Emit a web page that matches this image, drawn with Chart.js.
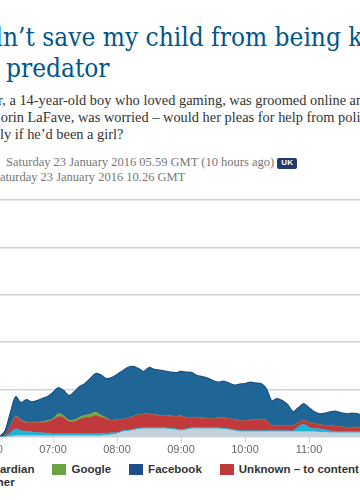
<!DOCTYPE html>
<html>
<head>
<meta charset="utf-8">
<script src="https://cdn.jsdelivr.net/npm/chart.js@4.4.1/dist/chart.umd.min.js"></script>
<style>
  html, body { margin: 0; padding: 0; background: #fff; }
  body { width: 360px; height: 500px; overflow: hidden; position: relative; }
  .line { position: absolute; white-space: nowrap; }
  .cut { position: absolute; right: 100%; white-space: pre; }
  .hl { font-family: "DejaVu Serif", serif; font-stretch: condensed; font-size: 26px; line-height: 31px; color: #005689; }
  .sf { font-family: "Liberation Serif", serif; font-size: 14.4px; line-height: 17px; color: #333; }
  .dt { font-family: "Liberation Serif", serif; font-size: 12.5px; line-height: 15px; color: #767676; }
  .badge { display: inline-block; width: 20px; height: 11px; line-height: 11px; margin-left: 3px; text-align: center;
           background: #21396b; color: #fff; border-radius: 2px; font: bold 8px "Liberation Sans", Arial, sans-serif; vertical-align: 1px; }
  #chartWrap { position: absolute; left: -40px; top: 196px; width: 440px; height: 262px; }
  #legend { position: absolute; left: -35px; top: 463px; width: 400px; display: flex; flex-wrap: wrap; column-gap: 18px;
            font: bold 11.5px "Liberation Sans", Arial, sans-serif; line-height: 13px; color: #333; }
  #legend .item { display: flex; align-items: center; white-space: nowrap; }
  #legend .sw { width: 14px; height: 11px; margin-right: 5px; }
</style>
</head>
<body>

<div class="line hl" style="left:-12px; top:22px"><span class="cut">‘I coul</span>dn’t save my child from being killed by an</div>
<div class="line hl" style="left:6px; top:53px"><span class="cut">by an online&nbsp;</span>predator</div>

<div class="line sf" style="left:-2px; top:92px"><span class="cut">Breck Bedna</span>r, a 14-year-old boy who loved gaming, was groomed online and murdered. His</div>
<div class="line sf" style="left:-8px; top:109px"><span class="cut">mother,&nbsp;</span>Lorin LaFave, was worried – would her pleas for help from police have been</div>
<div class="line sf" style="left:0px; top:126px"><span class="cut">taken more serious</span>ly if he’d been a girl?</div>

<div class="line dt" style="left:6px; top:155px"><span class="cut" style="padding-right:8px">First published on</span>Saturday 23 January 2016 05.59 GMT (10 hours ago)<span class="badge">UK</span></div>
<div class="line dt" style="left:-7px; top:170px"><span class="cut">Last modified on&nbsp;</span>Saturday 23 January 2016 10.26 GMT</div>

<div id="chartWrap"><canvas id="chart" width="440" height="262"></canvas></div>
<div id="legend"></div>

<script>
// ===== Data: referrals per minute, 5-minute steps =====
const times = [
  '06:00','06:05','06:10','06:15','06:20','06:25','06:30','06:35','06:40','06:45','06:50','06:55',
  '07:00','07:05','07:10','07:15','07:20','07:25','07:30','07:35','07:40','07:45','07:50','07:55',
  '08:00','08:05','08:10','08:15','08:20','08:25','08:30','08:35','08:40','08:45','08:50','08:55',
  '09:00','09:05','09:10','09:15','09:20','09:25','09:30','09:35','09:40','09:45','09:50','09:55',
  '10:00','10:05','10:10','10:15','10:20','10:25','10:30','10:35','10:40','10:45','10:50','10:55',
  '11:00','11:05','11:10','11:15','11:20','11:25','11:30','11:35','11:40','11:45','11:50','11:55',
  '12:00'
];
const tickLabels = ['06:00', '07:00', '08:00', '09:00', '10:00', '11:00', '12:00'];

const other = [
  0, 0, 0, 0, 5, 11, 11, 11, 11, 11, 11, 11,
  11, 11, 11, 11, 11, 11, 11, 11, 11, 11, 16, 21,
  32, 53, 58, 69, 80, 85, 85, 85, 85, 85, 80, 74,
  64, 74, 85, 85, 85, 85, 85, 85, 80, 74, 64, 53,
  53, 53, 53, 53, 53, 53, 53, 53, 53, 53, 53, 53,
  53, 53, 48, 48, 42, 42, 42, 42, 42, 42, 42, 42,
  42
];
const guardian = [
  0, 0, 0, 5, 37, 74, 53, 48, 42, 32, 32, 27,
  21, 21, 21, 21, 21, 21, 21, 21, 21, 21, 21, 21,
  11, 11, 11, 11, 11, 11, 11, 11, 11, 11, 11, 11,
  11, 11, 11, 11, 11, 11, 11, 11, 11, 11, 11, 11,
  11, 11, 11, 11, 11, 11, 11, 11, 11, 11, 53, 80,
  48, 32, 37, 27, 21, 11, 11, 11, 11, 11, 11, 11,
  11
];
const unknown = [
  0, 0, 0, 5, 64, 127, 106, 90, 95, 106, 106, 122,
  148, 180, 170, 127, 127, 154, 170, 175, 191, 175, 154, 127,
  138, 117, 127, 133, 138, 143, 143, 138, 127, 127, 127, 127,
  143, 117, 106, 106, 101, 95, 95, 101, 106, 106, 106, 106,
  106, 111, 117, 117, 106, 53, 53, 53, 53, 53, 42, 42,
  48, 53, 42, 42, 53, 58, 53, 42, 48, 48, 42, 42,
  42
];
const google = [
  0, 0, 0, 0, 5, 7, 7, 7, 7, 8, 11, 11,
  11, 32, 21, 16, 21, 21, 27, 32, 37, 21, 11, 3,
  3, 3, 3, 3, 3, 3, 3, 3, 3, 3, 3, 3,
  3, 3, 3, 3, 3, 3, 3, 3, 3, 3, 3, 3,
  3, 3, 3, 3, 3, 3, 3, 3, 3, 3, 3, 3,
  3, 3, 3, 3, 3, 3, 3, 3, 3, 3, 3, 3,
  3
];
const facebook = [
  0, 0, 5, 53, 143, 205, 183, 236, 215, 225, 244, 254,
  276, 276, 265, 260, 297, 323, 334, 376, 408, 424, 413, 453,
  474, 511, 532, 527, 490, 447, 490, 474, 479, 469, 463, 463,
  469, 479, 474, 442, 437, 426, 400, 378, 389, 373, 363, 384,
  389, 400, 384, 378, 336, 262, 283, 262, 219, 145, 156, 172,
  156, 124, 113, 129, 145, 156, 145, 145, 145, 140, 129, 124,
  124
];

// ===== Styles =====
const COLORS = {
  other:    { fill: '#c6d0d9', line: '#b9c5cf', key: '#c6d0d9' },
  guardian: { fill: '#1db4d5', line: '#17a6c6', key: '#1db4d5' },
  unknown:  { fill: '#c1393b', line: '#b53236', key: '#c0393b' },
  google:   { fill: '#79ab3d', line: '#6d9f36', key: '#6ba33f' },
  facebook: { fill: '#1f6596', line: '#1b4f80', key: '#1f4e8c' },
};

const minutes = t => (+t.slice(0, 2)) * 60 + (+t.slice(3)) - 360;
const points = arr => arr.map((v, i) => ({ x: minutes(times[i]), y: v }));

const series = [
  { key: 'other', label: 'Other', data: other },
  { key: 'guardian', label: 'Guardian', data: guardian },
  { key: 'unknown', label: 'Unknown – to content', data: unknown },
  { key: 'google', label: 'Google', data: google },
  { key: 'facebook', label: 'Facebook', data: facebook },
];
const legendOrder = ['guardian', 'google', 'facebook', 'unknown', 'other'];

const datasets = series.map((s, i) => ({
  label: s.label,
  data: points(s.data),
  backgroundColor: COLORS[s.key].fill,
  borderColor: COLORS[s.key].line,
  borderWidth: s.key === 'facebook' ? 1.2 : 0.6,
  fill: i === 0 ? 'origin' : '-1',
  pointRadius: 0,
  tension: 0.3,
}));

const pxPerMin = 64 / 60;
new Chart(document.getElementById('chart').getContext('2d'), {
  type: 'line',
  data: { datasets },
  options: {
    responsive: false,
    animation: false,
    layout: { padding: { top: 4, left: 0, right: 0, bottom: 0 } },
    plugins: { legend: { display: false }, tooltip: { enabled: false } },
    scales: {
      x: {
        type: 'linear',
        min: -29 / pxPerMin,
        max: (440 - 29) / pxPerMin,
        grid: { drawOnChartArea: false, drawTicks: true, tickLength: 6, color: '#c8d5df' },
        border: { display: true, color: '#c8d5df', width: 1 },
        ticks: {
          stepSize: 60, includeBounds: false, autoSkip: false, maxRotation: 0, padding: 1,
          color: '#666', font: { family: 'Liberation Sans', size: 11 },
          callback: v => tickLabels[Math.round(v / 60)] || ''
        }
      },
      y: {
        stacked: true,
        min: 0, max: 2500,
        ticks: { display: false, stepSize: 500 },
        grid: { drawTicks: false, color: '#d3d3d3', lineWidth: 1.5 },
        border: { display: false }
      }
    }
  }
});

// ===== HTML legend =====
const legend = document.getElementById('legend');
legendOrder.forEach(k => {
  const s = series.find(d => d.key === k);
  const item = document.createElement('div');
  item.className = 'item';
  item.innerHTML = `<span class="sw" style="background:${COLORS[k].key}"></span>${s.label}`;
  legend.appendChild(item);
});
</script>
</body>
</html>
